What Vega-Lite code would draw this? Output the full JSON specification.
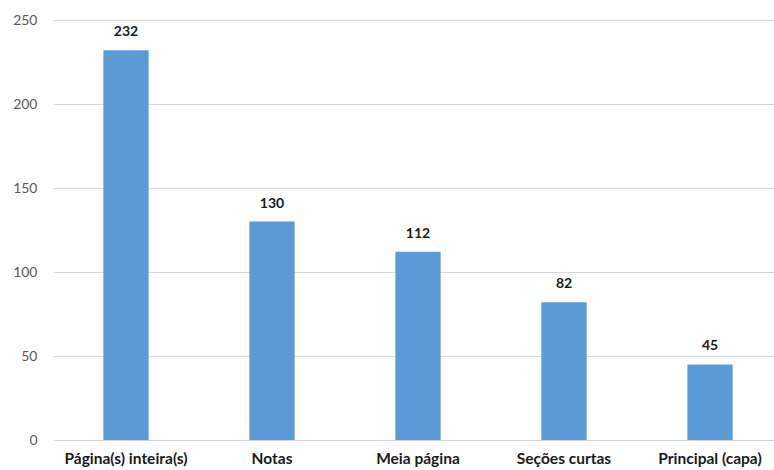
{
  "$schema": "https://vega.github.io/schema/vega-lite/v6.json",
  "autosize": "none",
  "width": 730,
  "height": 420,
  "padding": {"left": 53, "top": 20, "right": 0, "bottom": 30},
  "background": "white",
  "data": {"values": [
    {"categoria": "Página(s) inteira(s)", "valor": 232},
    {"categoria": "Notas", "valor": 130},
    {"categoria": "Meia página", "valor": 112},
    {"categoria": "Seções curtas", "valor": 82},
    {"categoria": "Principal (capa)", "valor": 45}
  ]},
  "config": {
    "view": {"stroke": null},
    "font": "Lato"
  },
  "encoding": {
    "x": {
      "field": "categoria", "type": "nominal", "sort": null,
      "scale": {"paddingInner": 0.69, "paddingOuter": 0.345},
      "axis": {"title": null, "labelAngle": 0, "domain": false, "ticks": false, "labelPadding": 11,
               "labelFont": "Lato", "labelFontWeight": "bold", "labelFontSize": 15.5, "labelColor": "#1a1a1a"}
    },
    "y": {
      "field": "valor", "type": "quantitative",
      "scale": {"domain": [0, 250]},
      "axis": {"title": null, "values": [0, 50, 100, 150, 200, 250], "domain": false, "ticks": false,
               "labelPadding": 16, "labelFont": "Lato", "labelFontSize": 14, "labelColor": "#595959",
               "gridColor": "#d9d9d9", "gridWidth": 1}
    }
  },
  "layer": [
    {"mark": {"type": "bar", "color": "#5B9BD5"}},
    {"mark": {"type": "text", "baseline": "bottom", "dy": -11, "font": "Lato", "fontWeight": "bold", "fontSize": 14, "color": "#1a1a1a"},
     "encoding": {"text": {"field": "valor", "type": "quantitative"}}}
  ]
}
